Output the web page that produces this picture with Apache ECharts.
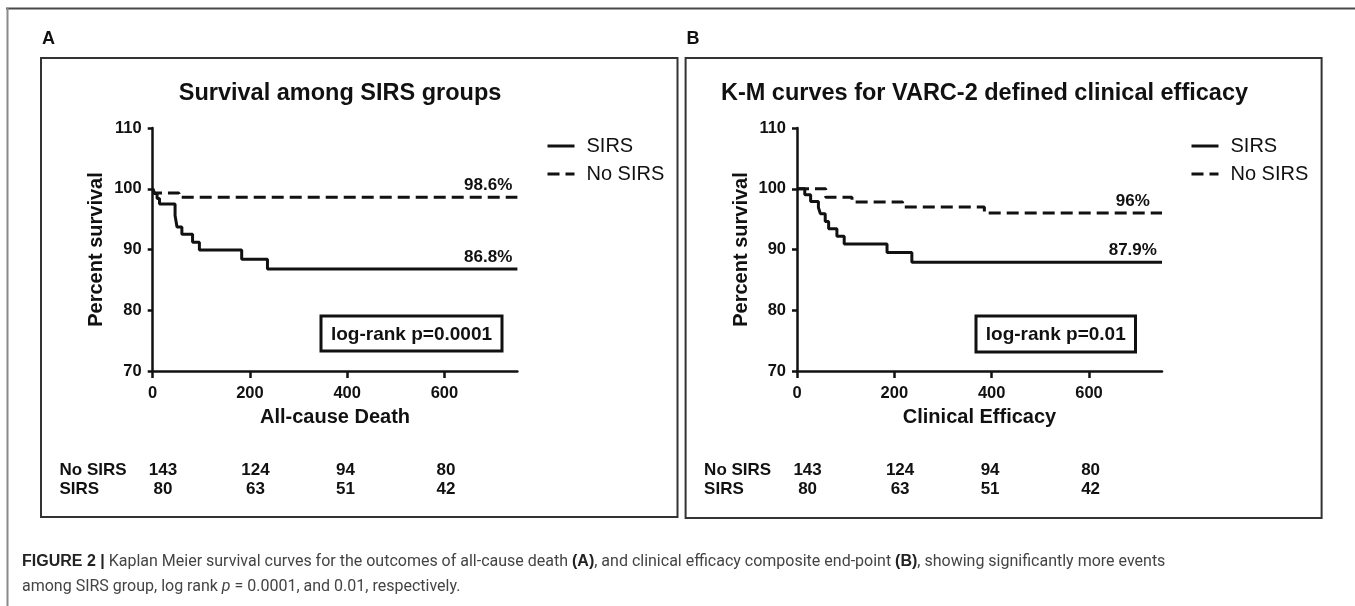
<!DOCTYPE html>
<html><head><meta charset="utf-8">
<script src="https://cdn.jsdelivr.net/npm/echarts@6/dist/echarts.min.js"></script>
<style>html,body{margin:0;padding:0;background:#fff}#c{width:1355px;height:606px}</style>
</head><body><div id="c"></div>
<script>
// ---- data ----
const panelLabels = ['A', 'B'];
const panelTitles = ['Survival among SIRS groups', 'K-M curves for VARC-2 defined clinical efficacy'];
const xAxisTitles = ['All-cause Death', 'Clinical Efficacy'];
const yAxisTitle = 'Percent survival';
const seriesNames = ['SIRS', 'No SIRS'];
const timeTicks = [0, 200, 400, 600];
const timeMax = 750;
const survivalMin = 70, survivalMax = 110, survivalStep = 10;
// Panel A: all-cause death  [days, percent survival]
const sirsDeath = [[0,100],[3,99.2],[9,98.4],[14,97.5],[46,95.6],[50,93.7],[60,92.5],[82,91.2],[96,89.9],[183,88.4],[236,86.8],[750,86.8]];
const noSirsDeath = [[0,100],[4,99.3],[54,98.6],[750,98.6]];
// Panel B: clinical efficacy
const sirsEfficacy = [[0,100],[16,99.0],[28,97.9],[44,96.9],[48,95.9],[58,94.6],[65,93.4],[82,92.2],[97,90.9],[185,89.5],[236,87.9],[750,87.9]];
const noSirsEfficacy = [[0,100],[59,98.6],[113,97.8],[217,97.0],[385,96.0],[750,96.0]];
const endLabelsDeath = ['86.8%', '98.6%'];
const endLabelsEfficacy = ['87.9%', '96%'];
const logRankTexts = ['log-rank p=0.0001', 'log-rank p=0.01'];
const riskRowNames = ['No SIRS', 'SIRS'];
const noSirsAtRisk = [143, 124, 94, 80];
const sirsAtRisk = [80, 63, 51, 42];
const captionLine1 = '{b|FIGURE 2 |} Kaplan Meier survival curves for the outcomes of all-cause death {b|(A)}, and clinical efficacy composite end-point {b|(B)}, showing significantly more events';
const captionLine2 = 'among SIRS group, log rank {i|p} = 0.0001, and 0.01, respectively.';

// ---- chart ----
const chart = echarts.init(document.getElementById('c'), null, {renderer: 'canvas'});
const F = 'Liberation Sans, Arial, Helvetica, sans-serif';
const gridsPx = [{left: 152.7, top: 128, width: 364.7, height: 243}, {left: 797, top: 128, width: 365, height: 243}];
const boxes = [{x: 41, y: 58, w: 636.5, h: 459}, {x: 685.6, y: 58, w: 636, h: 460}];

function xAxisFor(i) {
  return {
    type: 'value', gridIndex: i, min: 0, max: timeMax, interval: 200,
    name: xAxisTitles[i], nameLocation: 'middle', nameGap: 36,
    nameTextStyle: {fontFamily: F, fontWeight: 'bold', fontSize: 20, color: '#111'},
    axisLine: {onZero: false, lineStyle: {color: '#111', width: 2.5}},
    axisTick: {customValues: timeTicks, length: 7, lineStyle: {color: '#111', width: 2.5}},
    axisLabel: {customValues: timeTicks, margin: 14, fontFamily: F, fontWeight: 'bold', fontSize: 16.5, color: '#111'},
    splitLine: {show: false}
  };
}
function yAxisFor(i) {
  return {
    type: 'value', gridIndex: i, min: survivalMin, max: survivalMax, interval: survivalStep,
    name: yAxisTitle, nameLocation: 'middle', nameGap: 46,
    nameTextStyle: {fontFamily: F, fontWeight: 'bold', fontSize: 20, color: '#111'},
    axisLine: {onZero: false, lineStyle: {color: '#111', width: 2.5}},
    axisTick: {length: 5, lineStyle: {color: '#111', width: 2.5}},
    axisLabel: {margin: 11, fontFamily: F, fontWeight: 'bold', fontSize: 16.5, color: '#111'},
    splitLine: {show: false}
  };
}
function km(name, data, i, dashed) {
  return {
    name: name, type: 'line', step: 'end', data: data, xAxisIndex: i, yAxisIndex: i,
    showSymbol: false, symbol: 'none', silent: true, animation: false,
    lineStyle: {color: '#111', width: 3, type: dashed ? [12, 6] : 'solid'},
    itemStyle: {color: '#111'}
  };
}
function legendFor(left) {
  return {
    left: left, top: 131, orient: 'vertical', itemWidth: 27, itemHeight: 14, itemGap: 8,
    data: seriesNames, selectedMode: false,
    itemStyle: {opacity: 0, borderWidth: 0},
    lineStyle: {width: 3},
    textStyle: {fontFamily: F, fontSize: 20, color: '#111', lineHeight: 20, padding: [0, 0, 0, 7]}
  };
}

chart.setOption({
  animation: false,
  backgroundColor: '#fff',
  title: [0, 1].map(i => ({
    text: panelTitles[i], left: gridsPx[i].left + gridsPx[i].width / 2, top: 77, textAlign: 'center',
    textStyle: {fontFamily: F, fontWeight: 'bold', fontSize: 23.5, color: '#111'}
  })),
  legend: [legendFor(541), legendFor(1185)],
  grid: gridsPx.map(g => Object.assign({containLabel: false}, g)),
  xAxis: [xAxisFor(0), xAxisFor(1)],
  yAxis: [yAxisFor(0), yAxisFor(1)],
  series: [
    km(seriesNames[0], sirsDeath, 0, false),
    km(seriesNames[1], noSirsDeath, 0, true),
    km(seriesNames[0], sirsEfficacy, 1, false),
    km(seriesNames[1], noSirsEfficacy, 1, true)
  ]
});

const px = (gi, x, y) => chart.convertToPixel({gridIndex: gi}, [x, y]);
const g = [];
// outer figure frame
g.push({type: 'line', shape: {x1: 6, y1: 8.5, x2: 1355, y2: 8.5}, style: {stroke: '#4a4a4a', lineWidth: 2}, silent: true});
g.push({type: 'line', shape: {x1: 7.5, y1: 8, x2: 7.5, y2: 606}, style: {stroke: '#8a8a8a', lineWidth: 2}, silent: true});
[0, 1].map(i => {
  const b = boxes[i];
  g.push({type: 'rect', shape: {x: b.x, y: b.y, width: b.w, height: b.h}, style: {fill: 'none', stroke: '#333', lineWidth: 2}, silent: true});
  g.push({type: 'text', x: b.x + 1, y: 39, style: {text: panelLabels[i], font: 'bold 18px ' + F, fill: '#111', textVerticalAlign: 'middle'}, silent: true});
  // risk table
  const cols = [122, 214.5, 304.5, 405];
  g.push({type: 'text', x: b.x + 18.5, y: 470, style: {text: riskRowNames[0], font: 'bold 17px ' + F, fill: '#111', textVerticalAlign: 'middle'}, silent: true});
  g.push({type: 'text', x: b.x + 18.5, y: 489, style: {text: riskRowNames[1], font: 'bold 17px ' + F, fill: '#111', textVerticalAlign: 'middle'}, silent: true});
  timeTicks.forEach((t, k) => {
    g.push({type: 'text', x: b.x + cols[k], y: 470, style: {text: String(noSirsAtRisk[k]), font: 'bold 17px ' + F, fill: '#111', textAlign: 'center', textVerticalAlign: 'middle'}, silent: true});
    g.push({type: 'text', x: b.x + cols[k], y: 489, style: {text: String(sirsAtRisk[k]), font: 'bold 17px ' + F, fill: '#111', textAlign: 'center', textVerticalAlign: 'middle'}, silent: true});
  });
});
// end labels
const labelT = 690;
[[0, sirsDeath, endLabelsDeath[0]], [0, noSirsDeath, endLabelsDeath[1]], [1, sirsEfficacy, endLabelsEfficacy[0]], [1, noSirsEfficacy, endLabelsEfficacy[1]]].forEach(([gi, d, txt]) => {
  const p = px(gi, labelT, d[d.length - 1][1]);
  g.push({type: 'text', x: p[0], y: p[1] - 3, style: {text: txt, font: 'bold 17px ' + F, fill: '#111', textAlign: 'center', textVerticalAlign: 'bottom'}, silent: true});
});
// log-rank boxes
const lr = [{x: 321, y: 316, w: 181, h: 35}, {x: 976, y: 316, w: 159.5, h: 36}];
lr.forEach((r, i) => {
  g.push({type: 'rect', shape: {x: r.x, y: r.y, width: r.w, height: r.h}, style: {fill: '#fff', stroke: '#111', lineWidth: 3}, silent: true});
  g.push({type: 'text', x: r.x + r.w / 2, y: r.y + r.h / 2 + 1, style: {text: logRankTexts[i], font: 'bold 19px ' + F, fill: '#111', textAlign: 'center', textVerticalAlign: 'middle'}, silent: true});
});
// caption
const capRich = {
  b: {fontFamily: F, fontWeight: 'bold', fontSize: 16, fill: '#222'},
  i: {fontFamily: 'Roboto, ' + F, fontStyle: 'italic', fontSize: 16, fill: '#444'}
};
g.push({type: 'text', x: 22, y: 562, style: {text: captionLine1, font: '16px Roboto, ' + F, fill: '#444', textVerticalAlign: 'middle', rich: capRich}, silent: true});
g.push({type: 'text', x: 22, y: 587, style: {text: captionLine2, font: '16px Roboto, ' + F, fill: '#444', textVerticalAlign: 'middle', rich: capRich}, silent: true});
chart.setOption({graphic: g});
</script>
</body></html>
